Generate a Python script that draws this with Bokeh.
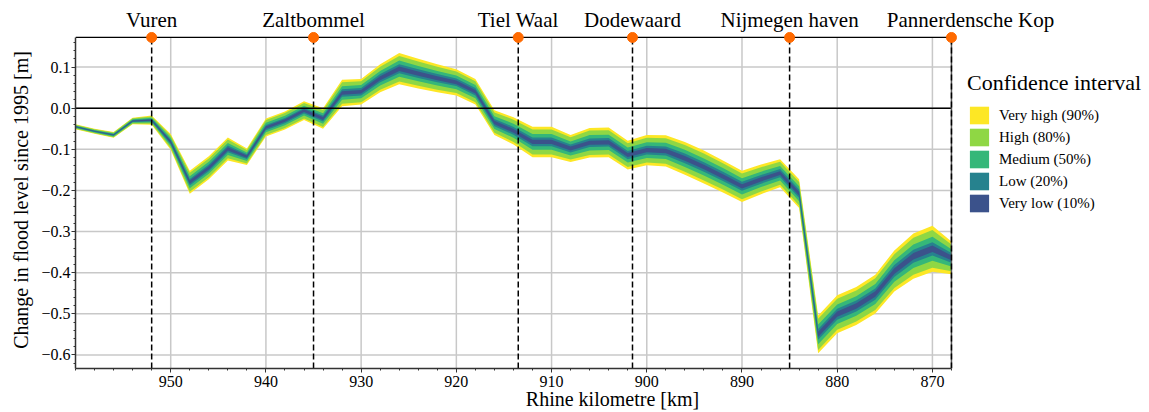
from bokeh.plotting import figure
from bokeh.models import (Range1d, FixedTicker, Legend, LegendItem, ColumnDataSource,
                          LinearAxis)
from bokeh.embed import file_html
from bokeh.resources import INLINE

# ---------------- data ----------------
km = [960, 958, 956, 954, 952, 950, 948, 946, 944, 942,
      940, 938, 936, 934, 932, 930, 928, 926, 924, 922,
      920, 918, 916, 914, 912, 910, 908, 906, 904, 902,
      900, 898, 896, 894, 892, 890, 888, 886, 884, 882,
      880, 878, 876, 874, 872, 870, 868]
median = [-0.045, -0.056, -0.065, -0.031, -0.029, -0.082, -0.180, -0.145, -0.099, -0.118,
          -0.047, -0.030, -0.006, -0.025, 0.037, 0.040, 0.073, 0.096, 0.084, 0.073,
          0.063, 0.040, -0.035, -0.055, -0.082, -0.082, -0.098, -0.084, -0.083, -0.114,
          -0.102, -0.104, -0.122, -0.143, -0.166, -0.190, -0.173, -0.158, -0.208, -0.550,
          -0.501, -0.481, -0.452, -0.396, -0.360, -0.342, -0.364]
half_width_90 = [0.006, 0.006, 0.007, 0.008, 0.011, 0.019, 0.028, 0.028, 0.028, 0.020,
                 0.022, 0.022, 0.023, 0.025, 0.032, 0.031, 0.034, 0.038, 0.036, 0.034,
                 0.032, 0.031, 0.030, 0.033, 0.037, 0.037, 0.033, 0.036, 0.036, 0.035,
                 0.037, 0.038, 0.040, 0.040, 0.039, 0.038, 0.036, 0.034, 0.035, 0.046,
                 0.046, 0.046, 0.047, 0.050, 0.055, 0.056, 0.040]
band_names = ["Very high (90%)", "High (80%)", "Medium (50%)", "Low (20%)", "Very low (10%)"]
band_fraction = [1.0, 0.82, 0.52, 0.29, 0.14]
band_colors = ["#fde725", "#8fd744", "#35b779", "#26828e", "#3b528b"]

places = ["Vuren", "Zaltbommel", "Tiel Waal", "Dodewaard", "Nijmegen haven", "Pannerdensche Kop"]
place_km = [952, 935, 913.5, 901.5, 885, 868]
place_label_km = [952, 935, 913.5, 901.5, 885, 866]   # where each name is centred

x_ticks = [950, 940, 930, 920, 910, 900, 890, 880, 870]
x_tick_labels = ["950", "940", "930", "920", "910", "900", "890", "880", "870"]
y_ticks = [-0.6, -0.5, -0.4, -0.3, -0.2, -0.1, 0.0, 0.1]
y_tick_labels = ["\u22120.6", "\u22120.5", "\u22120.4", "\u22120.3", "\u22120.2", "\u22120.1", "0.0", "0.1"]

# visible plot box (data units)
BOX_LEFT, BOX_RIGHT = 960, 868
BOX_BOTTOM, BOX_TOP = -0.633, 0.172
# drawing frame (extends right for the legend, up for the markers)
X_START, X_END = 960, 847.2
Y_START, Y_END = -0.633, 0.1865

FONT = "Liberation Serif"
SPINE = "#333333"

# ---------------- figure ----------------
p = figure(width=1149, height=412,
           x_range=Range1d(X_START, X_END), y_range=Range1d(Y_START, Y_END),
           output_backend="svg", toolbar_location=None,
           min_border_left=75, min_border_right=0, min_border_top=31, min_border_bottom=43)
p.background_fill_color = "white"
p.border_fill_color = "white"
p.outline_line_color = None
p.xgrid.visible = False
p.ygrid.visible = False

# grid lines (limited to the box)
p.segment(x0=x_ticks, y0=[BOX_BOTTOM] * len(x_ticks), x1=x_ticks, y1=[BOX_TOP] * len(x_ticks),
          line_color="#c8c8c8", line_width=1.5)
p.segment(x0=[BOX_LEFT] * len(y_ticks), y0=y_ticks, x1=[BOX_RIGHT] * len(y_ticks), y1=y_ticks,
          line_color="#c8c8c8", line_width=1.5)

# axes
p.xaxis.ticker = FixedTicker(ticks=x_ticks, minor_ticks=list(range(868, 961, 2)))
p.xaxis.major_label_overrides = {t: l for t, l in zip(x_ticks, x_tick_labels)}
p.xaxis.bounds = (BOX_LEFT, BOX_RIGHT)
p.yaxis.ticker = FixedTicker(ticks=y_ticks,
                             minor_ticks=[round(-0.62 + 0.02 * i, 2) for i in range(40)])
p.yaxis.major_label_overrides = {t: l for t, l in zip(y_ticks, y_tick_labels)}
p.yaxis.bounds = (BOX_BOTTOM, BOX_TOP)
p.xaxis.axis_label = "Rhine kilometre [km]"
p.yaxis.axis_label = "Change in flood level since 1995 [m]"
for ax in (p.xaxis[0], p.yaxis[0]):
    ax.axis_line_color = SPINE
    ax.axis_line_width = 1.5
    ax.major_tick_line_color = SPINE
    ax.minor_tick_line_color = SPINE
    ax.major_tick_out = 4
    ax.major_tick_in = 0
    ax.minor_tick_out = 2
    ax.minor_tick_in = 0
    ax.major_label_text_font = FONT
    ax.major_label_text_font_size = "16px"
    ax.major_label_text_color = "black"
    ax.axis_label_text_font = FONT
    ax.axis_label_text_font_size = "20px"
    ax.axis_label_text_font_style = "normal"
    ax.axis_label_text_color = "black"
p.xaxis.major_label_standoff = 3
p.xaxis.axis_label_standoff = -2
p.yaxis.major_label_standoff = 1
p.yaxis.axis_label_standoff = 6

# place-name axis on top
top_axis = LinearAxis(ticker=FixedTicker(ticks=place_label_km, minor_ticks=[]),
                      major_label_overrides={k: nm for k, nm in zip(place_label_km, places)})
top_axis.axis_line_color = None
top_axis.major_tick_line_color = None
top_axis.minor_tick_line_color = None
top_axis.major_tick_out = 0
top_axis.major_tick_in = 0
top_axis.major_label_standoff = 0
top_axis.major_label_text_font = FONT
top_axis.major_label_text_font_size = "21px"
top_axis.major_label_text_color = "black"
p.add_layout(top_axis, "above")

# bands
cols = {"km": km}
for i, f in enumerate(band_fraction):
    cols[f"lo{i}"] = [m - f * h for m, h in zip(median, half_width_90)]
    cols[f"hi{i}"] = [m + f * h for m, h in zip(median, half_width_90)]
src = ColumnDataSource(cols)
renderers = []
for i, c in enumerate(band_colors):
    r = p.varea(x="km", y1=f"lo{i}", y2=f"hi{i}", source=src, fill_color=c, fill_alpha=1.0)
    renderers.append(r)

# zero line, box top and right edge
p.segment(x0=[BOX_LEFT], y0=[0.0], x1=[BOX_RIGHT], y1=[0.0], line_color="black", line_width=1.5)
p.segment(x0=[BOX_LEFT], y0=[BOX_TOP], x1=[BOX_RIGHT], y1=[BOX_TOP], line_color="black", line_width=1.2)
p.segment(x0=[BOX_RIGHT], y0=[BOX_BOTTOM], x1=[BOX_RIGHT], y1=[BOX_TOP],
          line_color="#555555", line_width=1.5)

# place markers
n = len(place_km)
p.segment(x0=place_km, y0=[BOX_BOTTOM] * n, x1=place_km, y1=[BOX_TOP] * n,
          line_color="black", line_width=1.5, line_dash="6 3")
p.scatter(x=place_km, y=[BOX_TOP] * n, size=10, fill_color="#ff6a00", line_color="#ff6a00")

# legend
legend = Legend(items=[LegendItem(label=nm, renderers=[r]) for nm, r in zip(band_names, renderers)],
                title="Confidence interval", location=(892, 154))
legend.title_text_font = FONT
legend.title_text_font_size = "22px"
legend.title_text_font_style = "normal"
legend.title_text_color = "black"
legend.title_standoff = 8
legend.label_text_font = FONT
legend.label_text_font_size = "15px"
legend.label_text_color = "black"
legend.label_standoff = 8
legend.glyph_width = 24
legend.glyph_height = 22
legend.label_height = 22
legend.spacing = 0
legend.padding = 0
legend.margin = 0
legend.border_line_alpha = 0
legend.background_fill_alpha = 0
p.add_layout(legend)

open("out.html", "w").write(file_html(p, INLINE))
